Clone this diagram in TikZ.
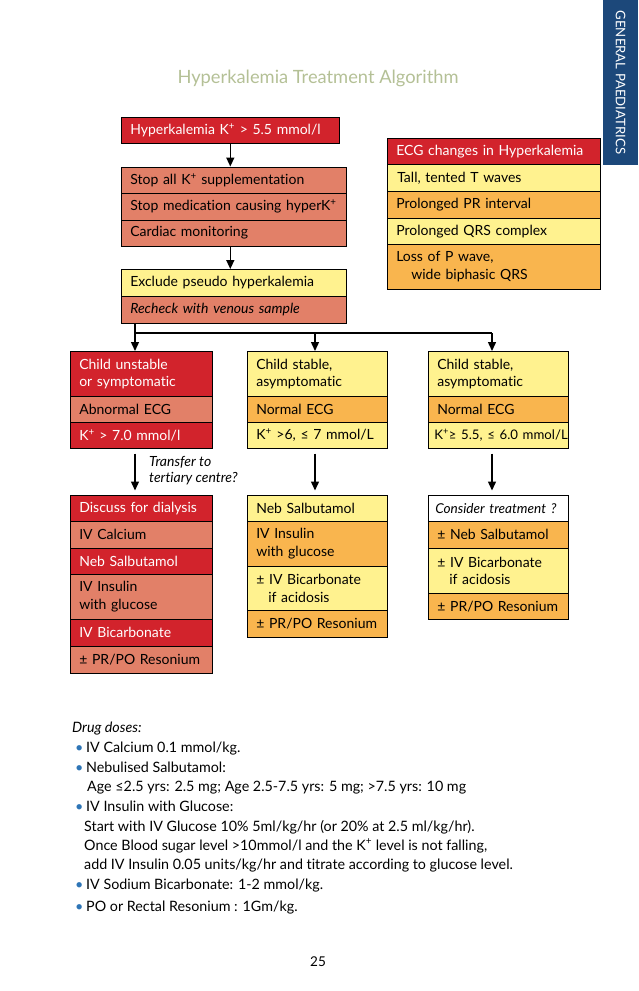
\documentclass[tikz,border=0pt]{standalone}
\usepackage{fontspec}
\setmainfont{Lato}[Ligatures=NoCommon]
\usetikzlibrary{arrows.meta}

\definecolor{hkred}{RGB}{210,35,44}
\definecolor{hksalmon}{RGB}{226,128,104}
\definecolor{hkyellow}{RGB}{255,242,143}
\definecolor{hkorange}{RGB}{249,181,78}
\definecolor{hktab}{RGB}{28,72,122}
\definecolor{hktitle}{RGB}{180,192,150}
\definecolor{hkbullet}{RGB}{46,117,182}

\newcommand{\Kp}{K\textsuperscript{+}}
\newcommand{\dosebullet}{\makebox[11pt][l]{\textcolor{hkbullet}{\textbullet}}}

\tikzset{
  cell/.style={draw=black, line width=0.6pt, anchor=north west, inner xsep=9pt, inner ysep=0pt,
    text width=#1, align=left, font=\fontsize{14}{17.5}\selectfont, minimum height=26.5pt},
  redcell/.style={cell=#1, fill=hkred, text=white},
  salcell/.style={cell=#1, fill=hksalmon},
  yelcell/.style={cell=#1, fill=hkyellow},
  oracell/.style={cell=#1, fill=hkorange},
  whitecell/.style={cell=#1, fill=white},
  twoline/.style={minimum height=45pt},
  arr/.style={-{Triangle[width=8pt,length=9pt]}, line width=1.4pt},
  dose/.style={anchor=base west, inner sep=0pt, font=\fontsize{14.3}{16}\selectfont},
}

\begin{document}
\begin{tikzpicture}[x=1pt, y=-1pt]
  \useasboundingbox (0,0) rectangle (638,991) ;
  % side tab and title
  \node[fill=hktab, text=white, rotate=-90, minimum width=165pt, minimum height=35pt,
    inner sep=0pt, font=\fontsize{13.2}{16}\selectfont] (tab) at (620.5,82.5) {GENERAL PAEDIATRICS} ;
  \node[text=hktitle, font=\fontsize{18.3}{22}\selectfont] (title) at (318,78) {Hyperkalemia Treatment Algorithm} ;

  % first steps
  \node[redcell=200pt, minimum height=26pt] (hk) at (121,117) {Hyperkalemia \Kp{} > 5.5 mmol/l} ;
  \node[salcell=207pt] (stopk) at (121,166.5) {Stop all \Kp{} supplementation} ;
  \node[salcell=207pt] (stopmed) at (121,193) {Stop medication causing hyper\Kp} ;
  \node[salcell=207pt] (cardiac) at (121,219.5) {Cardiac monitoring} ;
  \node[yelcell=207pt, minimum height=27pt] (exclude) at (121,269) {Exclude pseudo hyperkalemia} ;
  \node[salcell=207pt, minimum height=27pt] (recheck) at (121,296) {\textit{Recheck with venous sample}} ;

  % ECG changes
  \node[redcell=195pt, minimum height=26pt] (ecghead) at (387,138) {ECG changes in Hyperkalemia} ;
  \node[yelcell=195pt, minimum height=27pt] (tallt) at (387,164) {\hspace*{1pt}Tall, tented T waves} ;
  \node[oracell=195pt, minimum height=27pt] (print) at (387,191) {Prolonged PR interval} ;
  \node[yelcell=195pt, minimum height=26pt] (qrs) at (387,218) {Prolonged QRS complex} ;
  \node[oracell=195pt, twoline] (lossp) at (387,244) {Loss of P wave,\\\hspace*{15pt}wide biphasic QRS} ;

  % three branches
  \node[redcell=124pt, twoline] (unstable) at (70,351) {Child unstable\\or symptomatic} ;
  \node[salcell=124pt, minimum height=26pt] (abnecg) at (70,396) {Abnormal ECG} ;
  \node[redcell=124pt, minimum height=26pt] (kseven) at (70,422) {\Kp{} > 7.0 mmol/l} ;
  \node[yelcell=122pt, twoline] (stablem) at (247,351) {Child stable,\\asymptomatic} ;
  \node[oracell=122pt, minimum height=26pt] (normm) at (247,396) {Normal ECG} ;
  \node[yelcell=122pt, minimum height=26pt] (ksix) at (247,422) {\Kp{} >6, ≤ 7 mmol/L} ;
  \node[yelcell=122pt, twoline] (stabler) at (428,351) {Child stable,\\asymptomatic} ;
  \node[oracell=122pt, minimum height=26pt] (normr) at (428,396) {Normal ECG} ;
  \node[yelcell=122pt, minimum height=26pt] (kfive) at (428,422)
    {\hspace*{-3pt}\makebox[0pt][l]{\fontsize{13.2}{16}\selectfont\Kp≥ 5.5, ≤ 6.0 mmol/L}} ;

  % treatments, left
  \node[redcell=124pt] (dialysis) at (70,494.5) {Discuss for dialysis} ;
  \node[salcell=124pt, minimum height=27pt] (calcl) at (70,521) {IV Calcium} ;
  \node[redcell=124pt, minimum height=26pt] (salbl) at (70,548) {Neb Salbutamol} ;
  \node[salcell=124pt, twoline] (insl) at (70,574) {IV Insulin\\with glucose} ;
  \node[redcell=124pt, minimum height=27pt] (bicl) at (70,619) {IV Bicarbonate} ;
  \node[salcell=124pt] (resl) at (70,646) {± PR/PO Resonium} ;
  % treatments, middle
  \node[yelcell=122pt] (salbm) at (247,494.5) {Neb Salbutamol} ;
  \node[oracell=122pt, twoline] (insm) at (247,521) {IV Insulin\\with glucose} ;
  \node[yelcell=122pt, minimum height=44pt] (bicm) at (247,566) {± IV Bicarbonate\\\hspace*{12pt}if acidosis} ;
  \node[oracell=122pt, minimum height=27pt] (resm) at (247,610) {± PR/PO Resonium} ;
  % treatments, right
  \node[whitecell=122pt] (consider) at (428,494.5)
    {\hspace*{-2pt}\makebox[0pt][l]{\fontsize{13.6}{16}\selectfont\itshape Consider treatment ?}} ;
  \node[oracell=122pt, minimum height=27pt] (salbr) at (428,521) {± Neb Salbutamol} ;
  \node[yelcell=122pt, twoline] (bicr) at (428,548) {± IV Bicarbonate\\\hspace*{12pt}if acidosis} ;
  \node[oracell=122pt, minimum height=26pt] (resr) at (428,593) {± PR/PO Resonium} ;

  % arrows
  \draw[arr] (hk.south) -- (hk.south |- stopk.north) ;
  \draw[arr] (hk.south |- cardiac.south) -- (hk.south |- exclude.north) ;
  \coordinate (splitl) at (135,333) ;
  \coordinate (splitm) at (315,333) ;
  \coordinate (splitr) at (492,333) ;
  \draw[arr] (splitl |- recheck.south) -- (splitl |- unstable.north) ;
  \draw[line width=1.4pt] (splitl) -- (splitr) ;
  \draw[arr] (splitm) -- (splitm |- stablem.north) ;
  \draw[arr] (splitr) -- (splitr |- stabler.north) ;
  \draw[arr, shorten <=5pt, shorten >=4pt] (splitl |- kseven.south) -- (splitl |- dialysis.north) ;
  \draw[arr, shorten <=5pt, shorten >=4pt] (splitm |- ksix.south) -- (splitm |- salbm.north) ;
  \draw[arr, shorten <=5pt, shorten >=4pt] (splitr |- kfive.south) -- (splitr |- consider.north) ;
  \node[anchor=north west, inner sep=0pt, align=left, font=\itshape\fontsize{14}{16}\selectfont]
    (transfer) at (149,456) {Transfer to\\tertiary centre?} ;

  % drug doses
  \node[dose] (dose0) at (72,732) {\textit{Drug doses:}} ;
  \node[dose] (dose1) at (75,752.5) {\dosebullet IV Calcium 0.1 mmol/kg.} ;
  \node[dose] (dose2) at (75,772.5) {\dosebullet Nebulised Salbutamol:} ;
  \node[dose] (dose3) at (87,791.5) {Age ≤2.5 yrs: 2.5 mg; Age 2.5-7.5 yrs: 5 mg; >7.5 yrs: 10 mg} ;
  \node[dose] (dose4) at (75,811.5) {\dosebullet IV Insulin with Glucose:} ;
  \node[dose] (dose5) at (84,831) {Start with IV Glucose 10\% 5ml/kg/hr (or 20\% at 2.5 ml/kg/hr).} ;
  \node[dose] (dose6) at (84,850) {Once Blood sugar level >10mmol/l and the \Kp{} level is not falling,} ;
  \node[dose] (dose7) at (84,869) {add IV Insulin 0.05 units/kg/hr and titrate according to glucose level.} ;
  \node[dose] (dose8) at (75,889) {\dosebullet IV Sodium Bicarbonate: 1-2 mmol/kg.} ;
  \node[dose] (dose9) at (75,911.5) {\dosebullet PO or Rectal Resonium : 1Gm/kg.} ;
  \node[font=\fontsize{13.5}{16}\selectfont] (pagenum) at (318,962) {25} ;
\end{tikzpicture}
\end{document}
